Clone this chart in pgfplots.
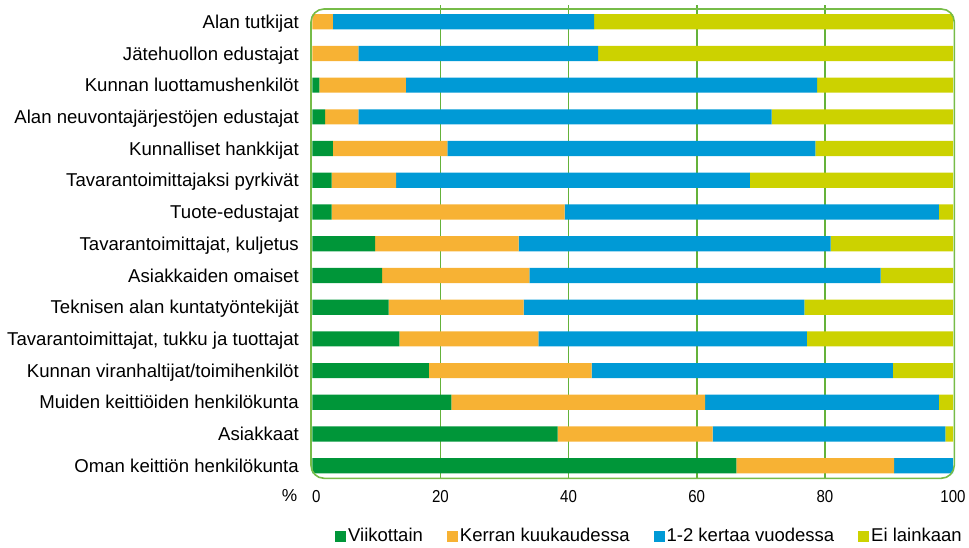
\documentclass[border=0pt]{standalone}
\usepackage{fontspec}
\setmainfont{Liberation Sans}
\newfontfamily\narrowsans[FakeStretch=0.87]{Liberation Sans}
\usepackage{pgfplots}
\pgfplotsset{compat=1.18}
\usepackage{pgfplotstable}

\definecolor{cWeek}{RGB}{0,150,57}
\definecolor{cMonth}{RGB}{247,178,52}
\definecolor{cYear}{RGB}{0,154,214}
\definecolor{cNever}{RGB}{204,210,0}
\definecolor{cFrame}{RGB}{118,188,72}
\definecolor{cGrid}{RGB}{100,178,58}

% share of respondents (%) per contact group, row 0 = top bar
\pgfplotstableread{
row week month year never
0   0.0  3.2  40.8 56.0
1   0.0  7.2  37.4 55.4
2   1.1  13.5 64.2 21.2
3   2.0  5.2  64.5 28.3
4   3.2  17.9 57.4 21.5
5   3.0  10.1 55.2 31.7
6   3.0  36.4 58.4 2.2
7   9.8  22.4 48.7 19.1
8   10.9 23.0 54.8 11.3
9   11.9 21.1 43.8 23.2
10  13.6 21.7 41.9 22.8
11  18.2 25.4 47.0 9.4
12  21.7 39.6 36.5 2.2
13  38.3 24.2 36.3 1.2
14  66.2 24.6 9.2  0.0
}\contacts

\begin{document}
\begin{tikzpicture}
\useasboundingbox (0pt,0pt) rectangle (969pt,547pt);
\begin{axis}[
  at={(311pt,68.7pt)}, anchor=south west,
  scale only axis, width=643.3pt, height=473.3pt,
  xbar stacked, bar width=15.2pt,
  y dir=reverse,
  xmin=-0.2, xmax=100.2, ymin=-0.526, ymax=14.395,
  axis line style={draw=none},
  major tick length=0pt,
  xtick={0,20,40,60,80,100},
  xticklabel={\ifdim\tick pt=0pt\hspace*{8pt}\fi\pgfmathprintnumber{\tick}},
  extra x ticks={20,40,60,80},
  extra x tick labels={},
  extra x tick style={grid=major, major grid style={cGrid, line width=1.6pt}},
  /pgf/number format/assume math mode=true,
  xticklabel style={font=\narrowsans\fontsize{17.3}{18}\selectfont,
    anchor=north, inner sep=0pt, text height=12.4pt, text depth=0pt, yshift=-11.7pt},
  ytick={0,...,14},
  yticklabels={Alan tutkijat, Jätehuollon edustajat, Kunnan luottamushenkilöt,
    Alan neuvontajärjestöjen edustajat, Kunnalliset hankkijat,
    Tavarantoimittajaksi pyrkivät, Tuote-edustajat,
    {Tavarantoimittajat, kuljetus}, Asiakkaiden omaiset,
    Teknisen alan kuntatyöntekijät, {Tavarantoimittajat, tukku ja tuottajat},
    Kunnan viranhaltijat/toimihenkilöt, Muiden keittiöiden henkilökunta,
    Asiakkaat, Oman keittiön henkilökunta},
  yticklabel style={font=\fontsize{18.6}{20}\selectfont,
    anchor=east, inner sep=0pt, text height=13.3pt, text depth=0pt, xshift=-12pt},
  legend columns=4,
  legend style={at={(axis description cs:0.0373,-0.1219)}, anchor=west,
    draw=none, fill=none, inner sep=0pt,
    font=\fontsize{18.5}{20}\selectfont,
    /tikz/every even column/.append style={column sep=22pt}},
  legend image code/.code={\fill[#1] (0pt,-5.5pt) rectangle (11pt,5.5pt);},
]
\clip[rounded corners=13pt] (axis cs:-0.2,-0.4) rectangle (axis cs:100.2,14.395);
\addplot[fill=cWeek, draw=none] table[x=week, y=row]{\contacts};
\addlegendentry{Viikottain}
\addplot[fill=cMonth, draw=none] table[x=month, y=row]{\contacts};
\addlegendentry{Kerran kuukaudessa}
\addplot[fill=cYear, draw=none] table[x=year, y=row]{\contacts};
\addlegendentry{1-2 kertaa vuodessa}
\addplot[fill=cNever, draw=none] table[x=never, y=row]{\contacts};
\addlegendentry{Ei lainkaan}
\coordinate (boxNW) at (axis cs:-0.2,-0.4);
\coordinate (boxSE) at (axis cs:100.2,14.395);
\end{axis}
\draw[cFrame, line width=1.6pt, rounded corners=13pt] (boxNW) rectangle (boxSE);
\node[anchor=base, inner sep=0pt, font=\fontsize{17.3}{18}\selectfont] at (289.5pt,45.3pt) {\%};
\end{tikzpicture}
\end{document}
